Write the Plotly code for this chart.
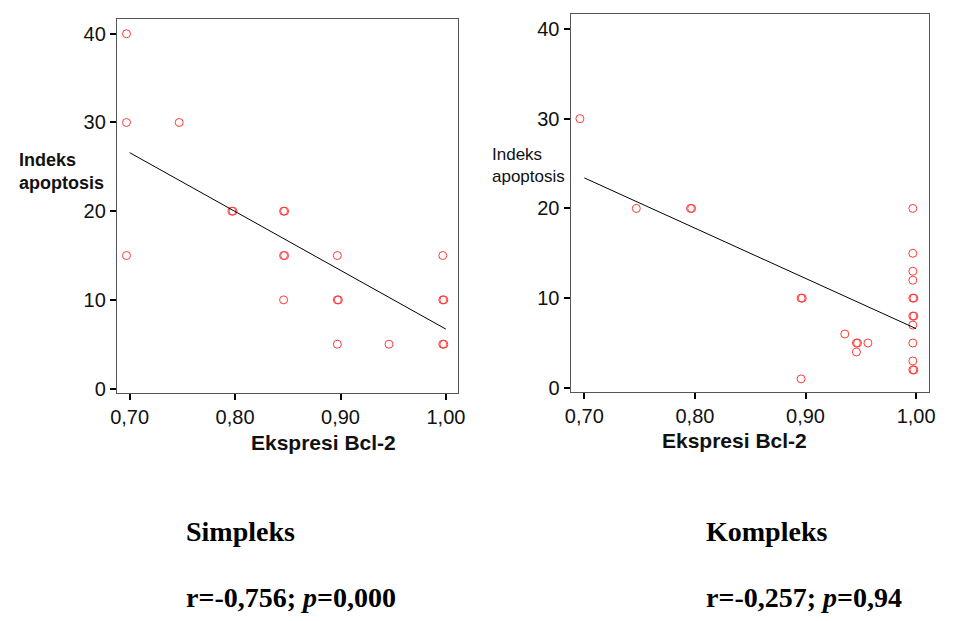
import plotly.graph_objects as go

# ---------------- data ----------------
# Simpleks group
simpleks_x = [0.697, 0.697, 0.747, 0.797, 0.798, 0.846, 0.847, 0.697, 0.846, 0.847,
              0.846, 0.897, 0.897, 0.898, 0.897, 0.946, 0.997, 0.997, 0.998, 0.997, 0.998]
simpleks_y = [40, 30, 30, 20, 20, 20, 20, 15, 15, 15,
              10, 15, 10, 10, 5, 5, 15, 10, 10, 5, 5]
simpleks_fit_x = [0.70, 1.00]
simpleks_fit_y = [26.6, 6.7]

# Kompleks group
kompleks_x = [0.696, 0.747, 0.796, 0.797, 0.896, 0.897, 0.896, 0.9355, 0.946, 0.947,
              0.946, 0.9564, 0.997, 0.997, 0.997, 0.997, 0.997, 0.998, 0.997, 0.998,
              0.997, 0.997, 0.997, 0.997, 0.998]
kompleks_y = [30, 20, 20, 20, 10, 10, 1, 6, 5, 5,
              4, 5, 20, 15, 13, 12, 10, 10, 8, 8,
              7, 5, 3, 2, 2]
kompleks_fit_x = [0.70, 1.00]
kompleks_fit_y = [23.4, 6.6]

x_tickvals = [0.70, 0.80, 0.90, 1.00]
x_ticktext = ["0,70", "0,80", "0,90", "1,00"]
y_tickvals = [0, 10, 20, 30, 40]
y_ticktext = ["0", "10", "20", "30", "40"]

x_title = "Ekspresi Bcl-2"
y_title_lines = ["Indeks", "apoptosis"]
panel_names = ["Simpleks", "Kompleks"]
panel_stats = [("-0,756", "0,000"), ("-0,257", "0,94")]

# ---------------- style ----------------
W, H = 955, 621
MARK = "#ff3b3b"
SANS = "Liberation Sans, Arial, sans-serif"
SERIF = "Liberation Serif, Times New Roman, serif"


def px(x):
    return x / W


def py(y):
    return 1 - y / H


fig = go.Figure()

fig.add_trace(go.Scatter(x=simpleks_x, y=simpleks_y, mode="markers",
                         marker=dict(symbol="circle-open", size=8, color=MARK,
                                     line=dict(width=1, color=MARK)),
                         xaxis="x", yaxis="y", showlegend=False))
fig.add_trace(go.Scatter(x=simpleks_fit_x, y=simpleks_fit_y, mode="lines",
                         line=dict(color="black", width=1),
                         xaxis="x", yaxis="y", showlegend=False))
fig.add_trace(go.Scatter(x=kompleks_x, y=kompleks_y, mode="markers",
                         marker=dict(symbol="circle-open", size=8, color=MARK,
                                     line=dict(width=1, color=MARK)),
                         xaxis="x2", yaxis="y2", showlegend=False))
fig.add_trace(go.Scatter(x=kompleks_fit_x, y=kompleks_fit_y, mode="lines",
                         line=dict(color="black", width=1),
                         xaxis="x2", yaxis="y2", showlegend=False))


def xaxis(domain, rng, anchor):
    return dict(domain=domain, range=rng, anchor=anchor, tickmode="array",
                tickvals=x_tickvals, ticktext=x_ticktext, ticks="outside", ticklen=6,
                tickwidth=2, tickcolor="black", showline=True, linecolor="#555555",
                linewidth=1, mirror=True, showgrid=False, zeroline=False,
                tickfont=dict(family=SANS, size=20, color="#111111"))


def yaxis(domain, rng, anchor):
    return dict(domain=domain, range=rng, anchor=anchor, tickmode="array",
                tickvals=y_tickvals, ticktext=y_ticktext, ticks="outside", ticklen=6,
                tickwidth=2, tickcolor="black", showline=True, linecolor="#555555",
                linewidth=1, mirror=True, showgrid=False, zeroline=False,
                tickfont=dict(family=SANS, size=20, color="#111111"))


xa1 = xaxis([px(112.3), px(458.3)], [0.6878, 1.0115], "y")
ya1 = yaxis([py(397), py(19)], [-0.446, 41.69], "x")
xa2 = xaxis([px(572.3), px(935.7)], [0.6875, 1.0116], "y2")
ya2 = yaxis([py(396), py(14.3)], [-0.408, 41.65], "x2")

ann = []
# axis titles
ann.append(dict(x=px(321.5), y=py(448), text="<b>" + x_title + "</b>",
                font=dict(family=SANS, size=21, color="#111111")))
ann.append(dict(x=px(739), y=py(446), text="<b>" + x_title + "</b>",
                font=dict(family=SANS, size=21, color="#111111")))
ann.append(dict(x=px(11), y=py(173), xanchor="left", align="left",
                text="<b>" + "<br>".join(y_title_lines) + "</b>",
                font=dict(family=SANS, size=18, color="#111111")))
ann.append(dict(x=px(491), y=py(167), xanchor="left", align="left",
                text="<br>".join(y_title_lines),
                font=dict(family=SANS, size=17, color="#111111")))
# panel captions
for name, (r, p), left in zip(panel_names, panel_stats, [180, 708]):
    ann.append(dict(x=px(left), y=py(538), xanchor="left", text="<b>" + name + "</b>",
                    font=dict(family=SERIF, size=28, color="black")))
    ann.append(dict(x=px(left), y=py(604), xanchor="left",
                    text="<b>r=" + r + "; <i>p</i>=" + p + "</b>",
                    font=dict(family=SERIF, size=28, color="black")))

for a in ann:
    a.update(xref="paper", yref="paper", showarrow=False)
    a.setdefault("yanchor", "middle")
    a.setdefault("xanchor", "center")

fig.update_layout(width=W, height=H, autosize=False,
                  margin=dict(l=0, r=0, t=0, b=0),
                  paper_bgcolor="white", plot_bgcolor="white",
                  xaxis=xa1, yaxis=ya1, xaxis2=xa2, yaxis2=ya2,
                  annotations=ann, showlegend=False)

# remove the default page margin so the figure fills the 955x621 window exactly
fig.write_html("out.html", config={"displayModeBar": False},
               post_script="document.body.style.margin='0';document.body.style.overflow='hidden';")
